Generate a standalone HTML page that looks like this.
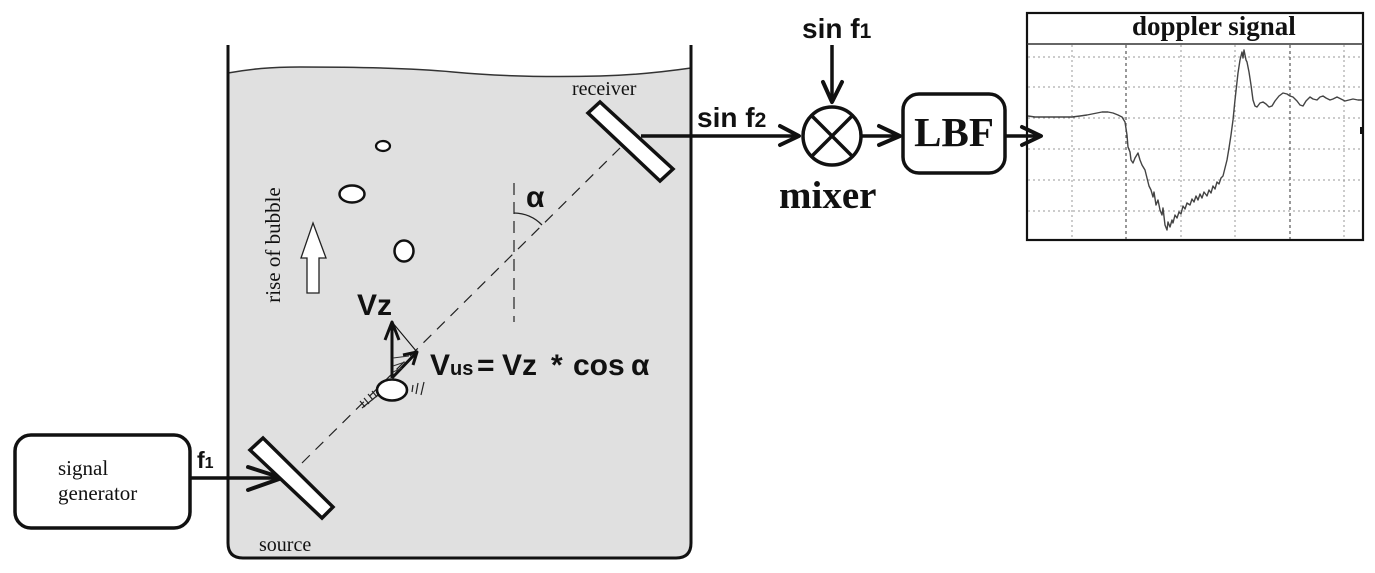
<!DOCTYPE html>
<html><head><meta charset="utf-8"><style>
html,body{margin:0;padding:0;background:#fff;}
svg{display:block;}
.sans{font-family:"Liberation Sans",sans-serif;font-weight:bold;fill:#111;}
.serif{font-family:"Liberation Serif",serif;fill:#111;}
</style></head><body>
<svg width="1375" height="573" viewBox="0 0 1375 573" xmlns="http://www.w3.org/2000/svg">
<rect width="1375" height="573" fill="#fff"/>

<!-- Tank water fill -->
<path d="M228,73 C250,69 270,67 300,67 S400,67 453,72 S560,77 600,76 S670,71 691,68 L691,543 Q691,558 676,558 L243,558 Q228,558 228,543 Z" fill="#e0e0e0"/>
<path d="M228,73 C250,69 270,67 300,67 S400,67 453,72 S560,77 600,76 S670,71 691,68" fill="none" stroke="#333" stroke-width="1.5"/>
<!-- Tank walls -->
<path d="M228,45 L228,543 Q228,558 243,558 L676,558 Q691,558 691,543 L691,45" fill="none" stroke="#111" stroke-width="3"/>

<!-- dashed beam line -->
<line x1="302" y1="463" x2="620" y2="148" stroke="#222" stroke-width="1.2" stroke-dasharray="11 8"/>
<!-- vertical dashed -->
<line x1="514" y1="183" x2="514" y2="322" stroke="#222" stroke-width="1.2" stroke-dasharray="12 7"/>
<!-- angle arc -->
<path d="M514,213 A40,40 0 0 1 542,225" fill="none" stroke="#222" stroke-width="1.3"/>
<text x="526" y="207" class="sans" font-size="30">α</text>

<!-- bubbles -->
<ellipse cx="383" cy="146" rx="7" ry="5" fill="#fff" stroke="#111" stroke-width="2.2"/>
<ellipse cx="352" cy="194" rx="12.5" ry="8.5" fill="#fff" stroke="#111" stroke-width="2.5"/>
<ellipse cx="404" cy="251" rx="9.5" ry="10.5" fill="#fff" stroke="#111" stroke-width="2.5"/>

<!-- hollow arrow -->
<path d="M313,223 L326,258 L319,258 L319,293 L307,293 L307,258 L301,258 Z" fill="#fff" stroke="#222" stroke-width="1.3"/>
<text transform="translate(280,245) rotate(-90)" text-anchor="middle" class="serif" font-size="21">rise of bubble</text>

<!-- velocity vectors -->
<line x1="392" y1="378" x2="392" y2="323" stroke="#111" stroke-width="3"/>
<polyline points="385,340 392,322 399,340" fill="none" stroke="#111" stroke-width="3" stroke-linejoin="round"/>
<line x1="392" y1="322" x2="417" y2="352" stroke="#111" stroke-width="1.1"/>
<line x1="392" y1="378" x2="416" y2="353" stroke="#111" stroke-width="3"/>
<polyline points="403,355 417,352 413,365" fill="none" stroke="#111" stroke-width="3" stroke-linejoin="round"/>
<line x1="393" y1="358" x2="409" y2="356" stroke="#333" stroke-width="1"/>
<line x1="393" y1="366" x2="405" y2="362" stroke="#333" stroke-width="1"/>
<line x1="393" y1="372" x2="402" y2="368" stroke="#333" stroke-width="1"/>
<ellipse cx="392" cy="390" rx="15" ry="10.5" fill="#fff" stroke="#111" stroke-width="2.6"/>
<!-- hatch marks -->
<line x1="362" y1="408" x2="378" y2="395" stroke="#222" stroke-width="1.2"/>
<line x1="365" y1="407" x2="360" y2="401" stroke="#222" stroke-width="1.2"/>
<line x1="369" y1="404" x2="364" y2="398" stroke="#222" stroke-width="1.2"/>
<line x1="373" y1="400" x2="368" y2="394" stroke="#222" stroke-width="1.2"/>
<line x1="377" y1="397" x2="372" y2="391" stroke="#222" stroke-width="1.2"/>
<line x1="413" y1="385" x2="412" y2="392" stroke="#222" stroke-width="1.2"/>
<line x1="418" y1="383" x2="416" y2="394" stroke="#222" stroke-width="1.2"/>
<line x1="424" y1="382" x2="421" y2="395" stroke="#222" stroke-width="1.2"/>

<text x="357" y="315" class="sans" font-size="30">Vz</text>
<text y="375" class="sans" font-size="30"><tspan x="430">V</tspan><tspan x="450" font-size="20">us</tspan><tspan x="477">=</tspan><tspan x="502">Vz</tspan><tspan x="551">*</tspan><tspan x="573">cos</tspan><tspan x="631">α</tspan></text>

<!-- signal generator -->
<rect x="15" y="435" width="175" height="93" rx="16" ry="16" fill="#fff" stroke="#111" stroke-width="3.5"/>
<text x="58" y="475" class="serif" font-size="21">signal</text>
<text x="58" y="500" class="serif" font-size="21">generator</text>
<text x="197" y="468" class="sans" font-size="23">f<tspan font-size="16">1</tspan></text>
<line x1="190" y1="478" x2="281" y2="478" stroke="#111" stroke-width="3.5"/>
<polyline points="248,467 282,478 248,490" fill="none" stroke="#111" stroke-width="4" stroke-linecap="round" stroke-linejoin="round"/>

<!-- source transducer -->
<polygon points="250,450 263,438 333,507 322,518" fill="#fff" stroke="#111" stroke-width="3.5" stroke-linejoin="miter"/>
<text x="259" y="551" class="serif" font-size="20">source</text>

<!-- receiver transducer -->
<line x1="641" y1="136" x2="798" y2="136" stroke="#111" stroke-width="3.5"/>
<polygon points="588,113 600,102 673,169 660,181" fill="#fff" stroke="#111" stroke-width="3.5"/>
<text x="572" y="95" class="serif" font-size="20">receiver</text>

<!-- sin f2 -->
<text x="697" y="127" class="sans" font-size="28">sin f<tspan font-size="21">2</tspan></text>
<polyline points="780,126 799,136 780,145" fill="none" stroke="#111" stroke-width="4" stroke-linecap="round" stroke-linejoin="round"/>

<!-- mixer -->
<circle cx="832" cy="136" r="29" fill="#fff" stroke="#111" stroke-width="3.5"/>
<line x1="811" y1="115" x2="853" y2="157" stroke="#111" stroke-width="3.5"/>
<line x1="853" y1="115" x2="811" y2="157" stroke="#111" stroke-width="3.5"/>
<text x="802" y="38" class="sans" font-size="28">sin f<tspan font-size="21">1</tspan></text>
<line x1="832" y1="45" x2="832" y2="101" stroke="#111" stroke-width="3.5"/>
<polyline points="823,82 832,102 842,82" fill="none" stroke="#111" stroke-width="4" stroke-linecap="round" stroke-linejoin="round"/>
<text x="779" y="208" class="serif" font-size="39" font-weight="bold">mixer</text>

<!-- mixer -> LBF -->
<line x1="861" y1="136" x2="899" y2="136" stroke="#111" stroke-width="3.5"/>
<polyline points="879,126 900,136 879,145" fill="none" stroke="#111" stroke-width="4" stroke-linecap="round" stroke-linejoin="round"/>
<rect x="903" y="94" width="102" height="79" rx="16" ry="16" fill="#fff" stroke="#111" stroke-width="3.5"/>
<text x="954" y="146" text-anchor="middle" class="serif" font-size="41" font-weight="bold">LBF</text>

<!-- chart -->
<rect x="1027" y="13" width="336" height="227" fill="#fff" stroke="#111" stroke-width="2.2"/>
<line x1="1027" y1="44" x2="1363" y2="44" stroke="#333" stroke-width="1.5"/>
<text x="1132" y="35" class="serif" font-size="27" font-weight="bold">doppler signal</text>
<g stroke="#999" stroke-width="1" stroke-dasharray="2 3">
<line x1="1072" y1="45" x2="1072" y2="239"/>
<line x1="1181" y1="45" x2="1181" y2="239"/>
<line x1="1235" y1="45" x2="1235" y2="239"/>
<line x1="1344" y1="45" x2="1344" y2="239"/>
<line x1="1028" y1="57" x2="1362" y2="57"/>
<line x1="1028" y1="87" x2="1362" y2="87"/>
<line x1="1028" y1="118" x2="1362" y2="118"/>
<line x1="1028" y1="149" x2="1362" y2="149"/>
<line x1="1028" y1="180" x2="1362" y2="180"/>
<line x1="1028" y1="211" x2="1362" y2="211"/>
</g>
<g stroke="#555" stroke-width="1.2" stroke-dasharray="3 3">
<line x1="1126" y1="45" x2="1126" y2="239"/>
<line x1="1290" y1="45" x2="1290" y2="239"/>
</g>
<polyline fill="none" stroke="#444" stroke-width="1.4" stroke-linejoin="round" points="1028,116 1035,117 1045,117 1053,117 1062,117 1072,117 1080,116 1087,115 1092,114 1097,113 1102,112 1108,112 1113,113 1118,115 1122,117 1125,122 1127,135 1128,147 1130,152 1131,160 1133,163 1135,158 1138,153 1140,160 1142,165 1145,170 1147,178 1149,186 1151,190 1153,197 1154,192 1156,205 1158,200 1160,210 1162,215 1163,208 1165,225 1167,230 1168,222 1170,227 1172,220 1173,223 1175,215 1177,218 1179,212 1181,214 1183,206 1185,209 1187,203 1190,205 1192,199 1194,202 1196,196 1198,200 1200,194 1202,198 1204,192 1207,196 1209,190 1211,193 1213,186 1215,189 1217,182 1219,184 1221,178 1223,176 1225,168 1227,160 1229,148 1231,135 1233,120 1235,100 1237,82 1238,73 1240,60 1242,52 1243,58 1244,50 1246,60 1247,62 1249,72 1251,85 1253,100 1255,106 1257,107 1260,103 1263,102 1266,104 1269,107 1272,106 1275,101 1279,96 1283,93 1287,94 1290,96 1293,97 1297,101 1300,105 1303,106 1306,101 1310,97 1313,99 1317,100 1320,97 1323,96 1326,98 1330,100 1333,99 1337,97 1341,99 1345,101 1349,100 1353,99 1358,100 1362,100"/>
<line x1="1361" y1="127" x2="1361" y2="134" stroke="#111" stroke-width="2"/>

<!-- LBF -> chart -->
<line x1="1005" y1="136" x2="1040" y2="136" stroke="#111" stroke-width="3.5"/>
<polyline points="1022,127 1041,136 1022,145" fill="none" stroke="#111" stroke-width="4" stroke-linecap="round" stroke-linejoin="round"/>
</svg>
</body></html>
